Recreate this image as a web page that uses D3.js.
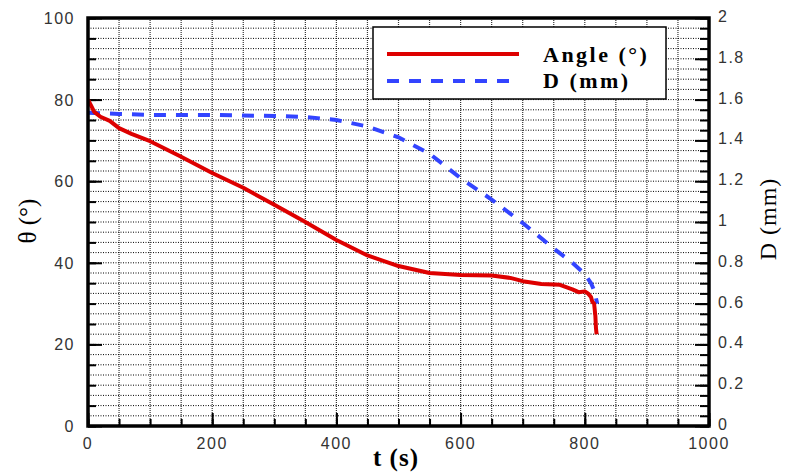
<!DOCTYPE html>
<html><head><meta charset="utf-8">
<script src="https://cdn.jsdelivr.net/npm/d3@7"></script>
<style>body{margin:0;background:#fff}svg{display:block}</style>
</head><body>
<svg id="c" width="788" height="472"></svg>
<script>
// ---- data ----
const angleT = [0,5,10,20,35,50,70,100,150,200,250,300,350,400,450,500,550,600,650,680,700,730,760,780,790,800,805,810,812,815,817,818,819];
const angleV = [80,78.5,77,75.8,74.8,73,71.6,69.8,66,62,58.4,54.2,50,45.6,41.8,39.2,37.5,37,36.9,36.3,35.5,34.8,34.6,33.5,32.8,33,32.5,31.6,30.5,30,27,24,22.5];
const dT = [0,50,100,150,200,250,300,350,400,450,500,550,600,650,700,750,780,800,810,815,820];
const dV = [1.535,1.53,1.525,1.525,1.525,1.522,1.52,1.515,1.5,1.468,1.415,1.335,1.215,1.11,0.995,0.87,0.8,0.745,0.7,0.665,0.6];
const xTicks = [0,200,400,600,800,1000];
const leftTicks = [0,20,40,60,80,100];
const rightTicks = [0,0.2,0.4,0.6,0.8,1,1.2,1.4,1.6,1.8,2];
const legendLabels = ["Angle (°)", "D (mm)"];

const svg = d3.select("#c");
const L = 88, R = 709, T = 18, B = 426;
const x = d3.scaleLinear().domain([0,1000]).range([L,R]);
const yL = d3.scaleLinear().domain([0,100]).range([B,T]);
const yR = d3.scaleLinear().domain([0,2]).range([B,T]);

// grid
const g = svg.append("g");
g.selectAll("line.v").data(d3.range(50,1000,50)).enter().append("line")
  .attr("x1",d=>x(d)).attr("x2",d=>x(d)).attr("y1",T).attr("y2",B)
  .attr("stroke","#333").attr("stroke-width",1.2).attr("stroke-dasharray","1,1");
g.selectAll("line.h").data(d3.range(2.5,100,2.5)).enter().append("line")
  .attr("y1",d=>yL(d)).attr("y2",d=>yL(d)).attr("x1",L).attr("x2",R)
  .attr("stroke","#000").attr("stroke-width",1).attr("stroke-dasharray","1,1.5");

// axes ticks (inward)
const tickStyle = sel => { sel.select(".domain").remove(); sel.selectAll("line").attr("stroke","#000").attr("stroke-width",2); sel.selectAll("text").remove(); };
svg.append("g").attr("transform",`translate(${L},0)`).call(d3.axisLeft(yL).tickValues(d3.range(0,101,5)).tickSize(-8)).call(tickStyle);
svg.append("g").attr("transform",`translate(${L},0)`).call(d3.axisLeft(yL).tickValues(leftTicks).tickSize(-14)).call(tickStyle);
svg.append("g").attr("transform",`translate(0,${B})`).call(d3.axisBottom(x).tickValues(d3.range(0,1001,50)).tickSize(-7)).call(tickStyle);
svg.append("g").attr("transform",`translate(0,${B})`).call(d3.axisBottom(x).tickValues(xTicks).tickSize(-13)).call(tickStyle);
svg.append("g").attr("transform",`translate(${R},0)`).call(d3.axisRight(yR).tickValues(d3.range(0,2.001,0.05)).tickSize(-9)).call(tickStyle);
svg.append("g").attr("transform",`translate(${R},0)`).call(d3.axisRight(yR).tickValues(rightTicks).tickSize(-14)).call(tickStyle);

// tick labels
const lf = "'Liberation Sans', Arial, sans-serif";
svg.append("g").selectAll("text").data(leftTicks).enter().append("text")
  .attr("x",75).attr("y",d=>yL(d)+6).attr("text-anchor","end")
  .attr("font-family",lf).attr("font-size",16).attr("letter-spacing",1.5).attr("fill","#333").text(d=>d);
svg.append("g").selectAll("text").data(xTicks).enter().append("text")
  .attr("x",d=>x(d)).attr("y",449).attr("text-anchor","middle")
  .attr("font-family",lf).attr("font-size",16).attr("letter-spacing",1.5).attr("fill","#333").text(d=>d);
svg.append("g").selectAll("text").data(rightTicks).enter().append("text")
  .attr("x",718).attr("y",d=>yR(d)+4).attr("text-anchor","start")
  .attr("font-family",lf).attr("font-size",16).attr("letter-spacing",1.5).attr("fill","#333").text(d=>String(+d.toFixed(1)));

// titles
const sf = "'Liberation Serif', 'Times New Roman', serif";
svg.append("text").attr("x",396).attr("y",466).attr("text-anchor","middle")
  .attr("font-family",sf).attr("font-weight","bold").attr("font-size",25).attr("letter-spacing",1).text("t (s)");
svg.append("text").attr("transform","translate(36,221) rotate(-90)").attr("text-anchor","middle")
  .attr("font-family",sf).attr("font-size",25).text("θ (°)");
svg.append("text").attr("transform","translate(776,219) rotate(-90)").attr("text-anchor","middle")
  .attr("font-family",sf).attr("font-size",24).attr("letter-spacing",1).text("D (mm)");

// data lines
const clip = svg.append("clipPath").attr("id","cp").append("rect").attr("x",L).attr("y",T).attr("width",R-L).attr("height",B-T);
const redLine = d3.line().x(d=>x(d[0])).y(d=>yL(d[1]));
const blueLine = d3.line().x(d=>x(d[0])).y(d=>yR(d[1]));
svg.append("path").datum(dT.map((t,i)=>[t,dV[i]])).attr("d",blueLine)
  .attr("fill","none").attr("stroke","#3344ff").attr("stroke-width",4).attr("stroke-dasharray","12,10").attr("clip-path","url(#cp)");
svg.append("path").datum(angleT.map((t,i)=>[t,angleV[i]])).attr("d",redLine)
  .attr("fill","none").attr("stroke","#dd0000").attr("stroke-width",4).attr("stroke-linejoin","round").attr("clip-path","url(#cp)");

// frame
svg.append("rect").attr("x",L).attr("y",T).attr("width",R-L).attr("height",B-T)
  .attr("fill","none").attr("stroke","#000").attr("stroke-width",3.5);

// legend
const lg = svg.append("g");
lg.append("rect").attr("x",373).attr("y",27).attr("width",293).attr("height",72)
  .attr("fill","#fff").attr("stroke","#000").attr("stroke-width",1.5);
lg.append("line").attr("x1",387).attr("x2",519).attr("y1",54).attr("y2",54)
  .attr("stroke","#dd0000").attr("stroke-width",4);
lg.append("line").attr("x1",387).attr("x2",517).attr("y1",81).attr("y2",81)
  .attr("stroke","#3344ff").attr("stroke-width",4).attr("stroke-dasharray","12,10");
lg.selectAll("text").data(legendLabels).enter().append("text")
  .attr("x",543).attr("y",(d,i)=>62+i*26)
  .attr("font-family",sf).attr("font-weight","bold").attr("font-size",22).attr("letter-spacing",2.5).text(d=>d);
</script>
</body></html>
